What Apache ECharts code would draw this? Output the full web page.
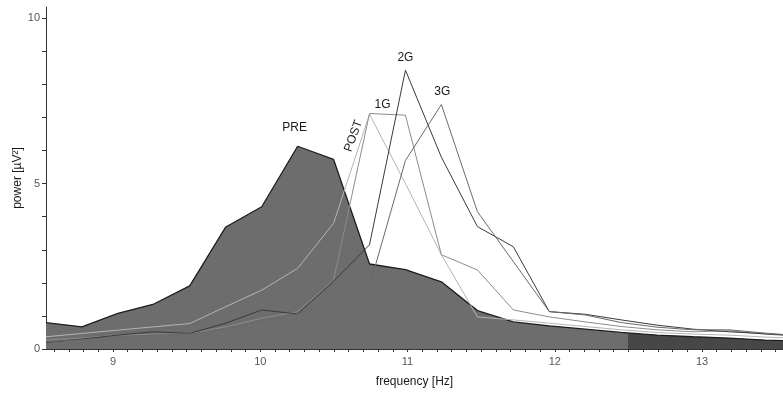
<!DOCTYPE html>
<html><head><meta charset="utf-8">
<script src="https://cdn.jsdelivr.net/npm/echarts@6/dist/echarts.min.js"></script>
<style>html,body{margin:0;padding:0;background:#fff}#c{width:783px;height:394px}</style>
</head><body><div id="c"></div>
<script>
// frequency bins (Hz)
const freq = [8.545, 8.789, 9.033, 9.277, 9.521, 9.766, 10.010, 10.254, 10.498, 10.742, 10.986,
              11.230, 11.475, 11.719, 11.963, 12.207, 12.451, 12.695, 12.939, 13.184, 13.428, 13.672];
// power values (µV²)
const pre  = [0.80, 0.67, 1.08, 1.36, 1.91, 3.69, 4.30, 6.13, 5.73, 2.57, 2.40, 2.03, 1.16, 0.82, 0.70, 0.60, 0.50, 0.42, 0.37, 0.33, 0.27, 0.24];
const post = [0.37, 0.47, 0.57, 0.67, 0.77, 1.28, 1.78, 2.44, 3.80, 7.10, 5.00, 2.85, 0.97, 0.88, 0.78, 0.68, 0.58, 0.50, 0.45, 0.42, 0.36, 0.32];
const g1   = [0.27, 0.33, 0.42, 0.45, 0.47, 0.67, 0.93, 1.13, 2.08, 7.12, 7.07, 2.85, 2.39, 1.18, 0.97, 0.82, 0.68, 0.58, 0.52, 0.55, 0.45, 0.38];
const g2   = [0.20, 0.30, 0.42, 0.52, 0.47, 0.78, 1.18, 1.06, 2.05, 3.15, 8.43, 5.80, 3.70, 3.09, 1.13, 1.05, 0.88, 0.72, 0.60, 0.52, 0.46, 0.40];
const g3   = [0.22, 0.28, 0.35, 0.42, 0.45, 0.60, 0.85, 1.05, 1.45, 1.90, 5.70, 7.39, 4.15, 2.64, 1.13, 1.03, 0.80, 0.66, 0.58, 0.58, 0.48, 0.40];
// tick labels
const xTickLabels = [9, 10, 11, 12, 13];
const yTickLabels = [0, 5, 10];
const bandEdge = 12.5;

const xTicks = []; for (let v = 86; v <= 135; v++) xTicks.push(v / 10);
const yTicks = []; for (let v = 0; v <= 10; v++) yTicks.push(v);

const FONT = 'Liberation Sans, Arial, sans-serif';
const pairs = arr => freq.map((f, i) => [f, arr[i]]);

function annot(arr, idx, text, offset, rotate) {
  return {
    silent: true,
    symbolSize: 0,
    animation: false,
    data: [{ coord: [freq[idx], arr[idx]] }],
    label: { show: true, position: 'inside', offset: offset, rotate: rotate || 0,
             formatter: text, color: '#1a1a1a', fontSize: 12, fontFamily: FONT }
  };
}
function line(name, arr, color, idx, offset, rotate) {
  return {
    name: name, type: 'line', data: pairs(arr), showSymbol: false, symbol: 'none',
    lineStyle: { color: color, width: 1 }, z: 3,
    markPoint: annot(arr, idx, name, offset, rotate)
  };
}

// hard colour step of the PRE fill at bandEdge (fraction of the polygon's x-span)
const f = (bandEdge - freq[0]) / (freq[freq.length - 1] - freq[0]);
const preFill = new echarts.graphic.LinearGradient(0, 0, 1, 0, [
  { offset: 0, color: '#6d6d6d' }, { offset: f, color: '#6d6d6d' },
  { offset: f, color: '#474747' }, { offset: 1, color: '#474747' }
]);

const chart = echarts.init(document.getElementById('c'));
chart.setOption({
  animation: false,
  backgroundColor: '#fff',
  grid: { left: 46, right: 0, top: 7, bottom: 45, containLabel: false, outerBoundsMode: 'none' },
  xAxis: {
    type: 'value', min: 8.545, max: 13.55,
    name: 'frequency [Hz]', nameLocation: 'middle', nameGap: 27,
    nameTextStyle: { color: '#1a1a1a', fontSize: 12, fontFamily: FONT },
    axisLine: { show: true, lineStyle: { color: '#333', width: 1 } },
    axisTick: { show: true, customValues: xTicks, length: 3, lineStyle: { color: '#333' } },
    axisLabel: { customValues: xTickLabels, color: '#555', fontSize: 11, fontFamily: FONT, margin: 7 },
    splitLine: { show: false }
  },
  yAxis: {
    type: 'value', min: 0, max: 10.34,
    name: 'power [µV²]', nameLocation: 'middle', nameGap: 22, nameMoveOverlap: false,
    nameTextStyle: { color: '#1a1a1a', fontSize: 12, fontFamily: FONT },
    axisLine: { show: true, lineStyle: { color: '#333', width: 1 } },
    axisTick: { show: true, customValues: yTicks, length: 4, lineStyle: { color: '#333' } },
    axisLabel: { customValues: yTickLabels, color: '#555', fontSize: 11, fontFamily: FONT, margin: 6 },
    splitLine: { show: false }
  },
  series: [
    {
      name: 'PRE', type: 'line', data: pairs(pre), showSymbol: false, symbol: 'none', z: 2,
      lineStyle: { color: '#1e1e1e', width: 1.3 },
      areaStyle: { opacity: 1, color: preFill },
      markPoint: annot(pre, 7, 'PRE', [-3, -19])
    },
    line('POST', post, '#b4b4b4', 9, [-26, -7.5], 70),
    line('1G', g1, '#8c8c8c', 9, [13, -9]),
    line('2G', g2, '#3a3a3a', 10, [0, -12]),
    line('3G', g3, '#6a6a6a', 11, [1, -13])
  ]
});
</script></body></html>
